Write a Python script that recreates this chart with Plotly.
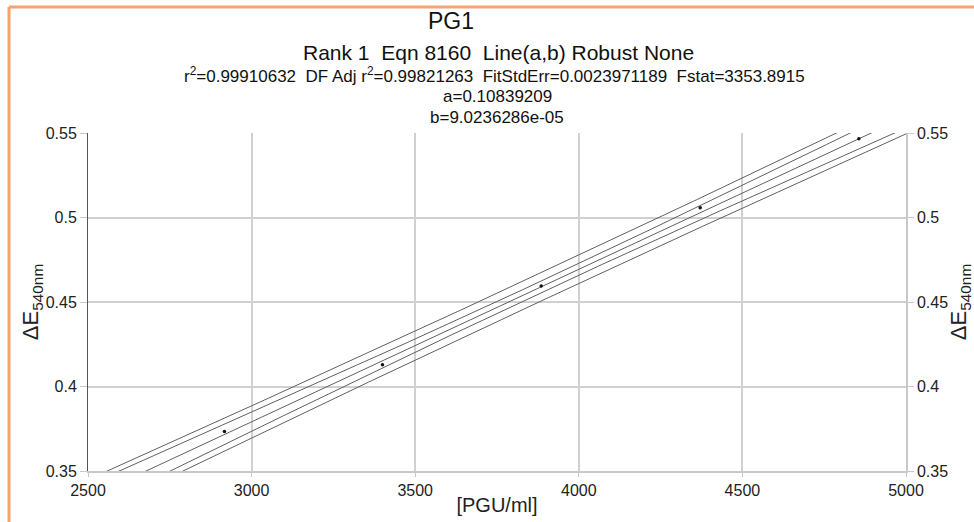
import numpy as np
import plotly.graph_objects as go

# ---- data ----
pgu = [2917, 3400, 3885, 4371, 4856]          # [PGU/ml]
delta_e = [0.3733, 0.4129, 0.4595, 0.5058, 0.5466]  # ΔE540nm

# fit statistics printed in the chart header
coef_a = 0.10839209
coef_b = 9.0236286e-05
fit_std_err = 0.0023971189
t_crit = 3.182446   # Student t, 95 %, 3 DF

x_ticks = [2500, 3000, 3500, 4000, 4500, 5000]
y_ticks = [0.35, 0.4, 0.45, 0.5, 0.55]
y_tick_text = ["0.35", "0.4", "0.45", "0.5", "0.55"]

S = "&nbsp;"
title_main = "PG1"
title_lines = [
    f"Rank 1 {S}Eqn 8160 {S}Line(a,b) Robust None",
    f"r<sup>2</sup>=0.99910632 {S}DF Adj r<sup>2</sup>=0.99821263 {S}FitStdErr=0.0023971189 {S}Fstat=3353.8915",
    "a=0.10839209",
    "b=9.0236286e-05",
]

# ---- fitted line and 95 % confidence / prediction bands ----
xd = np.array(pgu, dtype=float)
n = len(xd)
xm = xd.mean()
sxx = ((xd - xm) ** 2).sum()
xg = np.linspace(2400, 5100, 300)
yfit = coef_a + coef_b * xg
h = (xg - xm) ** 2 / sxx
conf = t_crit * fit_std_err * np.sqrt(1.0 / n + h)
pred = t_crit * fit_std_err * np.sqrt(1.0 + 1.0 / n + h)

W, H = 974, 522
L, R, T, B = 88, 906, 133, 471

fig = go.Figure()
line_style = dict(color="#606060", width=1)
for yy in [yfit + pred, yfit + conf, yfit, yfit - conf, yfit - pred]:
    fig.add_trace(go.Scatter(x=xg, y=yy, mode="lines", line=line_style,
                             hoverinfo="skip", showlegend=False))
fig.add_trace(go.Scatter(x=pgu, y=delta_e, mode="markers",
                         marker=dict(color="#111", size=3.5), showlegend=False))
# invisible trace to carry the right-hand axis
fig.add_trace(go.Scatter(x=pgu, y=delta_e, yaxis="y2", mode="markers",
                         marker=dict(opacity=0), hoverinfo="skip", showlegend=False))

font = "Arial, 'Liberation Sans', sans-serif"
tick_font = dict(family=font, size=16, color="#222")
xtitle_font = dict(family=font, size=20, color="#222")
ytitle_font = dict(family=font, size=22, color="#222")

fig.update_layout(
    width=W, height=H,
    margin=dict(l=L, r=W - R, t=T, b=H - B, pad=0, autoexpand=False),
    paper_bgcolor="white", plot_bgcolor="white",
    font=dict(family=font, color="#222"),
    xaxis=dict(range=[2500, 5000], tickvals=x_ticks, ticktext=[str(v) for v in x_ticks],
               automargin=False,
               showgrid=True, gridcolor="#d0d0d0", gridwidth=1.5,
               showline=True, linecolor="#c8c8c8", linewidth=1.5,
               ticks="outside", ticklen=4, tickcolor="#c8c8c8",
               tickfont=tick_font, zeroline=False,
               title=dict(text="[PGU/ml]", font=xtitle_font, standoff=0)),
    yaxis=dict(range=[0.35, 0.55], tickvals=y_ticks, ticktext=y_tick_text,
               automargin=False,
               showgrid=True, gridcolor="#d0d0d0", gridwidth=1.5,
               showline=True, linecolor="#555", linewidth=1,
               ticks="outside", ticklen=7, tickcolor="#c8c8c8",
               tickfont=tick_font, zeroline=False,
               title=dict(text="ΔE<sub>540nm</sub>", font=ytitle_font, standoff=0)),
    yaxis2=dict(range=[0.35, 0.55], tickvals=y_ticks, ticktext=y_tick_text,
                automargin=False,
                overlaying="y", side="right", showgrid=False,
                showline=True, linecolor="#c8c8c8", linewidth=1.5,
                ticks="outside", ticklen=6, tickcolor="#c8c8c8",
                tickfont=tick_font, zeroline=False,
                title=dict(text="ΔE<sub>540nm</sub>", font=ytitle_font, standoff=6)),
)

def py(p):
    return (B - p) / (B - T)

def px(p):
    return (p - L) / (R - L)

anns = [
    dict(text=title_main, x=px(451), y=py(21), size=23),
    dict(text=title_lines[0], x=px(499), y=py(52), size=21),
    dict(text=title_lines[1], x=px(494), y=py(75), size=17),
    dict(text=title_lines[2], x=px(497), y=py(97), size=17),
    dict(text=title_lines[3], x=px(497), y=py(117), size=17),
]
for a in anns:
    fig.add_annotation(text=a["text"], x=a["x"], y=a["y"], xref="paper", yref="paper",
                       xanchor="center", yanchor="middle", showarrow=False,
                       font=dict(family=font, size=a["size"], color="#111"))

# orange frame (top and left edges)
frame = "#f4a46c"
fig.add_shape(type="line", xref="paper", yref="paper", x0=px(9), x1=px(980),
              y0=py(7), y1=py(7), line=dict(color=frame, width=3))
fig.add_shape(type="line", xref="paper", yref="paper", x0=px(9), x1=px(9),
              y0=py(7), y1=py(530), line=dict(color=frame, width=3))

fig.write_html("out.html")
